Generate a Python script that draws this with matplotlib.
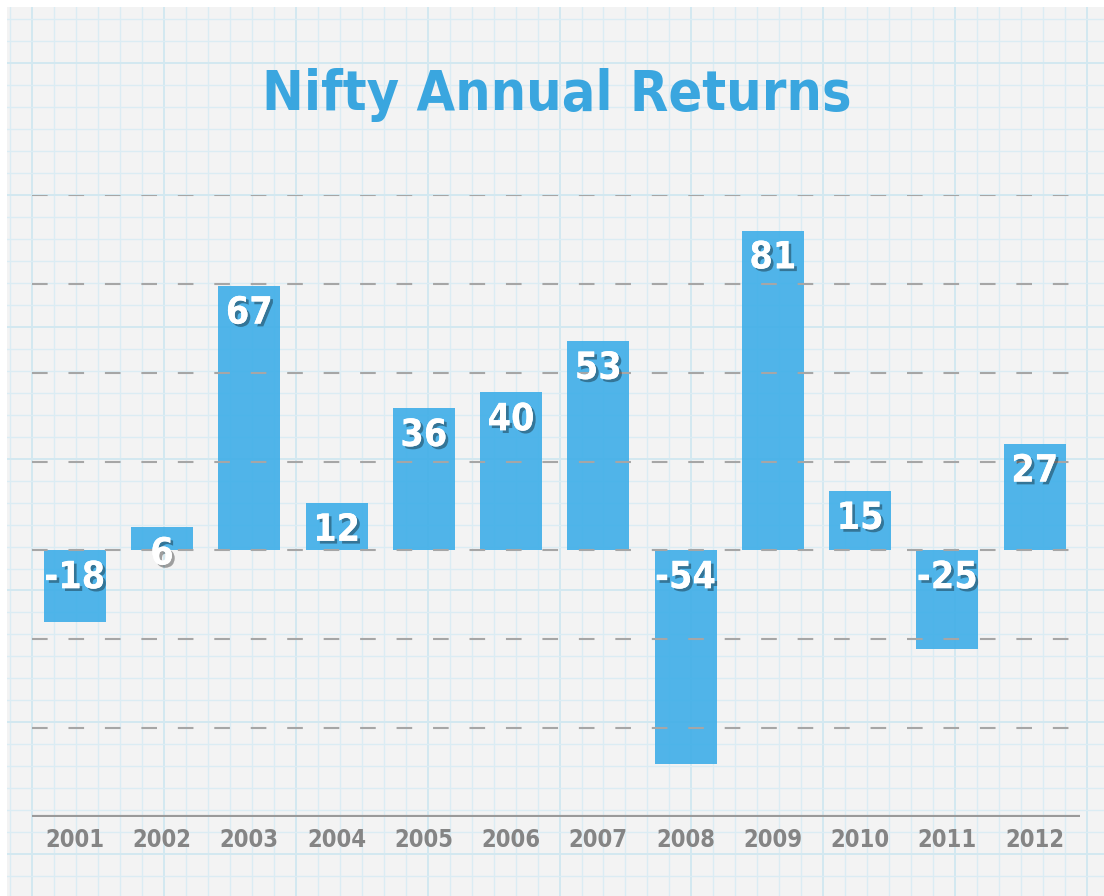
import matplotlib
matplotlib.use("Agg")
import matplotlib.pyplot as plt
import matplotlib.patheffects as pe
from matplotlib import font_manager as fm

years = ["2001", "2002", "2003", "2004", "2005", "2006",
         "2007", "2008", "2009", "2010", "2011", "2012"]
returns = [-18, 6, 67, 12, 36, 40, 53, -54, 81, 15, -25, 27]
grid_levels = [-45, -22.5, 0, 22.5, 45, 67.5, 90]
title = "Nifty Annual Returns"

cond = [f.fname for f in fm.fontManager.ttflist if "Condensed" in f.fname and "Bold" in f.fname and "Oblique" not in f.fname and "Italic" not in f.fname]
if cond:
    fprop = lambda size: fm.FontProperties(fname=cond[0], size=size)
else:
    fprop = lambda size: fm.FontProperties(family="DejaVu Sans", weight="bold", size=size)

W, H = 1104, 896
fig = plt.figure(figsize=(W / 100, H / 100), dpi=100)
fig.patch.set_facecolor("white")

# graph-paper background
bg = fig.add_axes([7 / W, 0, 1 - 7 / W, 1 - 7 / H])
bg.set_xlim(7, W)
bg.set_ylim(H, 7)
bg.set_facecolor("#f3f3f3")
bg.axis("off")
bg.add_patch(plt.Rectangle((7, 7), W, H, color="#f3f3f3", zorder=0))
step = 21.98
k = -1
while 32 + k * step < W:
    x = 32 + k * step
    major = (k % 6 == 0)
    bg.axvline(x, color="#d3e8f0" if major else "#dbecf3", lw=1.4 if major else 1.0, zorder=1)
    k += 1
k = 0
while 19 + k * step < H:
    y = 19 + k * step
    major = ((k - 2) % 6 == 0)
    bg.axhline(y, color="#d3e8f0" if major else "#dbecf3", lw=1.4 if major else 1.0, zorder=1)
    k += 1

# main chart axes
left, right = 32 / W, 1080 / W
bottom, top = (H - 817) / H, (H - 195) / H
ax = fig.add_axes([left, bottom, right - left, top - bottom])
ax.patch.set_alpha(0)
ax.set_xlim(-0.49, 11.52)
ax.set_ylim(-67.5, 90)

xs = list(range(len(years)))
ax.bar(xs, returns, width=0.71, color="#3eaee8", alpha=0.9, zorder=2)

for lv in grid_levels:
    ax.plot([-0.49, 11.43], [lv, lv], color="#a6a6a6", lw=1.5,
            dashes=(7.5, 10), zorder=3, solid_capstyle="butt")

ax.axhline(-67.5, color="#9a9a9a", lw=3, zorder=3)

for x, v in zip(xs, returns):
    ax.annotate(str(v), xy=(x, max(v, 0)), xytext=(0, -20), textcoords="offset points",
                ha="center", va="center", color="white", fontproperties=fprop(27), zorder=5,
                path_effects=[pe.withSimplePatchShadow(offset=(2, -2), shadow_rgbFace="black", alpha=0.35),
                              pe.Normal()])

ax.set_xticks(xs)
ax.set_xticklabels(years, color="#858585", fontproperties=fprop(17))
ax.tick_params(axis="x", length=0, pad=8)
ax.set_yticks([])
for s in ax.spines.values():
    s.set_visible(False)

fig.text(557 / W, 1 - 95 / H, title, ha="center", va="center", color="#3aa6df",
         fontproperties=fprop(40))

fig.savefig("out.png", dpi=100, facecolor="white")
